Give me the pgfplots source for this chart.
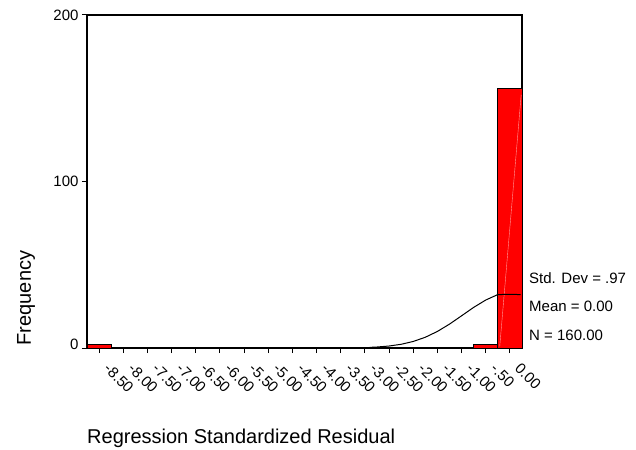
\documentclass[border=0pt]{standalone}
\usepackage{pgfplots}
\pgfplotsset{compat=1.18}
\usepackage{fontspec}
\setmainfont{Liberation Sans}
\begin{document}
\begin{tikzpicture}
\begin{axis}[
  scale only axis,
  width=435bp, height=333bp,
  xmin=-8.75, xmax=0.25, ymin=0, ymax=200,
  axis line style={line width=1.2bp},
  tick style={line width=1bp, black},
  tick align=outside,
  major tick length=5bp,
  xtick pos=bottom, ytick pos=left,
  xtick={-8.5,-8,-7.5,-7,-6.5,-6,-5.5,-5,-4.5,-4,-3.5,-3,-2.5,-2,-1.5,-1,-0.5,0},
  xticklabels={-8.50,-8.00,-7.50,-7.00,-6.50,-6.00,-5.50,-5.00,-4.50,-4.00,-3.50,-3.00,-2.50,-2.00,-1.50,-1.00,-.50,0.00},
  ytick={0,100,200},
  yticklabels={\raisebox{7bp}{0},100,200},
  xticklabel style={font=\fontsize{15bp}{18bp}\selectfont, xshift=4bp, yshift=-16.5bp, rotate=-45, anchor=base west, inner sep=0pt},
  yticklabel style={font=\fontsize{15bp}{18bp}\selectfont},
  xlabel={Regression Standardized Residual},
  ylabel={Frequency},
  xlabel style={font=\fontsize{20bp}{24bp}\selectfont, at={(axis description cs:0,-0.2862)}, anchor=base west, inner sep=0pt},
  ylabel style={font=\fontsize{20bp}{24bp}\selectfont, at={(axis description cs:-0.1402,0.150)}, anchor=center, inner sep=0pt},
]
\addplot[ybar, bar width=0.5, fill=red, draw=black, line width=0.8bp] coordinates {(-8.5,2) (-0.5,2) (0,156)};
\addplot[white, line width=0.4bp, opacity=0.6] coordinates {(-0.21,1) (0.233,152)};
\addplot[black, line width=1bp] coordinates {(-2.9,0.38) (-2.75,0.59) (-2.5,1.19) (-2.25,2.23) (-2.0,3.93) (-1.75,6.46) (-1.5,9.95) (-1.25,14.34) (-1.0,19.34) (-0.75,24.4) (-0.5,28.81) (-0.25,32.1) (0,32.2) (0.22,32.1)};
\end{axis}
\node[anchor=base west, inner sep=0pt, font=\fontsize{15bp}{18bp}\selectfont] at (442bp,64.5bp) {Std. Dev = .97};
\node[anchor=base west, inner sep=0pt, font=\fontsize{15bp}{18bp}\selectfont] at (442bp,36.5bp) {Mean = 0.00};
\node[anchor=base west, inner sep=0pt, font=\fontsize{15bp}{18bp}\selectfont] at (442bp,8bp) {N = 160.00};
\pgfresetboundingbox
\useasboundingbox (-87bp,-102bp) rectangle (549bp,348bp);
\end{tikzpicture}
\end{document}
